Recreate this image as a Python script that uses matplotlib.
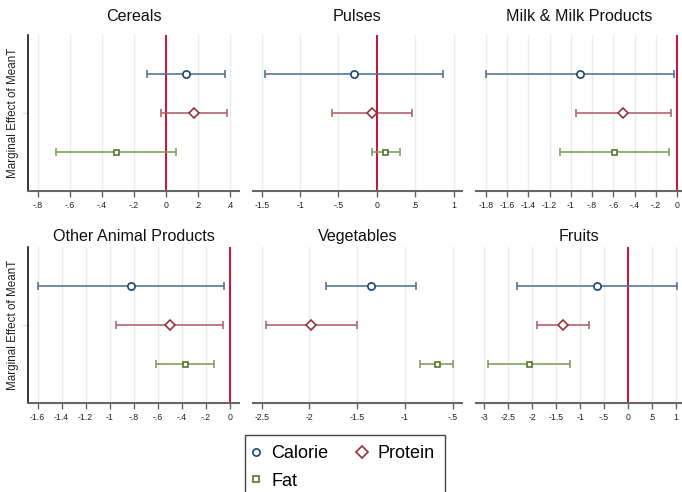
import numpy as np
import matplotlib.pyplot as plt
from matplotlib.lines import Line2D

plt.rcParams['font.family'] = ['Liberation Sans', 'DejaVu Sans']

# food groups and marginal effects of MeanT (point, lower CI, upper CI)
groups = ["Cereals", "Pulses", "Milk & Milk Products",
          "Other Animal Products", "Vegetables", "Fruits"]

calorie = [0.125, -0.296, -0.917, -0.825, -1.352, -0.647]
calorie_lo = [-0.114, -1.456, -1.800, -1.600, -1.827, -2.310]
calorie_hi = [0.369, 0.860, -0.031, -0.048, -0.884, 1.020]

protein = [0.177, -0.065, -0.509, -0.500, -1.984, -1.357]
protein_lo = [-0.027, -0.587, -0.952, -0.945, -2.458, -1.890]
protein_hi = [0.381, 0.456, -0.059, -0.056, -1.505, -0.810]

fat = [-0.3125, 0.112, -0.590, -0.370, -0.667, -2.060]
fat_lo = [-0.683, -0.065, -1.103, -0.614, -0.842, -2.920]
fat_hi = [0.0625, 0.304, -0.075, -0.128, -0.494, -1.210]

ticks = [
    [-0.8, -0.6, -0.4, -0.2, 0, 0.2, 0.4],
    [-1.5, -1, -0.5, 0, 0.5, 1],
    [-1.8, -1.6, -1.4, -1.2, -1, -0.8, -0.6, -0.4, -0.2, 0],
    [-1.6, -1.4, -1.2, -1, -0.8, -0.6, -0.4, -0.2, 0],
    [-2.5, -2, -1.5, -1, -0.5],
    [-3, -2.5, -2, -1.5, -1, -0.5, 0, 0.5, 1],
]
xlims = [(-0.859, 0.458), (-1.617, 1.112), (-1.894, 0.044),
         (-1.678, 0.078), (-2.594, -0.40), (-3.17, 1.12)]

series = [
    ("Calorie", calorie, calorie_lo, calorie_hi, 3, 'o', 5.2, '#1a476f', '#4f7194'),
    ("Protein", protein, protein_lo, protein_hi, 2, 'D', 4.6, '#90353b', '#b25e65'),
    ("Fat", fat, fat_lo, fat_hi, 1, 's', 3.6, '#55752f', '#7f9a5c'),
]


def stata_fmt(v):
    s = f"{v:g}"
    return s.replace("0.", ".") if s != "0" else s


W, H = 682, 492
fig = plt.figure(figsize=(W / 100, H / 100), dpi=100)

cols = [(28.3, 239.0), (252.7, 462.3), (476.0, 681.7)]
rows = [(35.0, 191.0), (247.0, 403.0)]
title_base = [21.0, 240.7]

for i, name in enumerate(groups):
    r, c = divmod(i, 3)
    x0, x1 = cols[c]
    y0, y1 = rows[r]
    ax = fig.add_axes([x0 / W, 1 - y1 / H, (x1 - x0) / W, (y1 - y0) / H])

    for gx in ticks[i]:
        ax.axvline(gx, color='#e4edef', lw=1.0, zorder=0)
    ax.axvline(0, color='#c8103a', lw=1.4, zorder=1)

    for lab, pt, lo, hi, ypos, mk, ms, dark, light in series:
        v = pt[i]
        ax.errorbar([v], [ypos], xerr=[[v - lo[i]], [hi[i] - v]], fmt='none',
                    ecolor=light, elinewidth=1.15, capsize=3, capthick=1.15, zorder=2)
        ax.plot([v], [ypos], ls='none', marker=mk, ms=ms, mfc='white',
                mec=dark, mew=1.2, zorder=3)

    ax.set_xlim(*xlims[i])
    ax.set_ylim(0, 4)
    ax.set_xticks(ticks[i])
    ax.set_xticklabels([stata_fmt(t) for t in ticks[i]])
    ax.tick_params(axis='x', length=4, width=1, color='#666666', labelsize=6.3,
                   labelcolor='#222222', pad=3)

    for s in ('top', 'right'):
        ax.spines[s].set_visible(False)
    ax.spines['bottom'].set_color('#666666')
    ax.spines['bottom'].set_linewidth(1.5)

    if c == 0:
        ax.spines['left'].set_color('black')
        ax.spines['left'].set_linewidth(1.1)
        ax.set_yticks([2])
        ax.set_yticklabels([])
        ax.tick_params(axis='y', length=4, width=1, color='#dde6e8')
        fig.text(13.3 / W, 1 - (y0 + y1) / 2 / H, "Marginal Effect of MeanT",
                 rotation=90, ha='center', va='center', fontsize=8.4,
                 color='#222222')
    else:
        ax.spines['left'].set_visible(False)
        ax.set_yticks([])

    fig.text((x0 + x1) / 2 / W, 1 - title_base[r] / H, name, ha='center',
             va='baseline', fontsize=11.6, color='#111111')

# legend filled column-wise: Calorie, Fat | Protein
handles = [Line2D([], [], ls='none', marker='o', ms=5.2, mfc='white', mec='#1a476f', mew=1.2),
           Line2D([], [], ls='none', marker='s', ms=4.2, mfc='white', mec='#55752f', mew=1.2),
           Line2D([], [], ls='none', marker='D', ms=6.0, mfc='white', mec='#90353b', mew=1.2)]
leg = fig.legend(handles, ["Calorie", "Fat", "Protein"], ncol=2, loc='upper left',
                 bbox_to_anchor=(245 / W, 1 - 435 / H), borderaxespad=0,
                 fontsize=13, frameon=True, fancybox=False, framealpha=1,
                 edgecolor='#444444', handlelength=0.1, handletextpad=0.82,
                 columnspacing=1.8, labelspacing=0.6, borderpad=0.55)
leg.get_frame().set_linewidth(1.0)

fig.savefig("out.png", dpi=100)
